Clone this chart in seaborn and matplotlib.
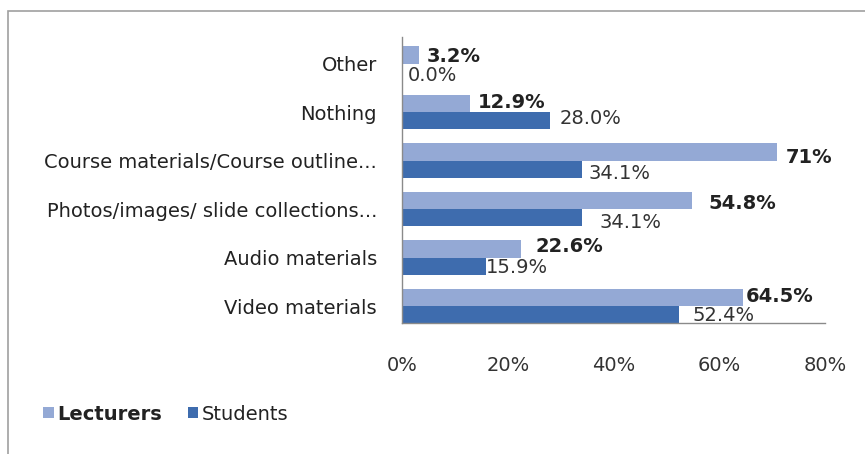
import matplotlib
matplotlib.use("Agg")
import matplotlib.pyplot as plt
import seaborn as sns
import pandas as pd
from matplotlib.patches import Rectangle, Patch

categories = ["Other", "Nothing", "Course materials/Course outline...",
              "Photos/images/ slide collections...", "Audio materials", "Video materials"]
lecturers = [3.2, 12.9, 71.0, 54.8, 22.6, 64.5]
students = [0.0, 28.0, 34.1, 34.1, 15.9, 52.4]
lecturer_labels = ["3.2%", "12.9%", "71%", "54.8%", "22.6%", "64.5%"]
student_labels = ["0.0%", "28.0%", "34.1%", "34.1%", "15.9%", "52.4%"]
series = ["Lecturers", "Students"]
xticks = [0, 20, 40, 60, 80]
xtick_labels = ["0%", "20%", "40%", "60%", "80%"]

# label nudges in pixels (dx right, dy down) relative to bar end / bar centre
lect_nudge = [(8, 1), (8, -1), (8, 5), (17, 3.5), (14, -2), (3, -1)]
stud_nudge = [(6, 3), (10, -2), (6, 4), (17, 5), (0, 1), (13, 1)]

colors = {"Lecturers": "#94A9D5", "Students": "#3E6CAE"}
FS = 14

df = pd.DataFrame({
    "category": categories * 2,
    "value": lecturers + students,
    "series": [series[0]] * len(categories) + [series[1]] * len(categories),
})

sns.set_theme(style="white")
plt.rcParams["font.family"] = ["DejaVu Sans"]

fig = plt.figure(figsize=(8.65, 4.54), dpi=100)
ax = fig.add_axes([402 / 865, 1 - 323 / 454, (825 - 402) / 865, (323 - 37) / 454])

sns.barplot(data=df, y="category", x="value", hue="series", order=categories,
            hue_order=series, palette=colors, orient="h", width=0.71,
            saturation=1, ax=ax, legend=False, linewidth=0)

ax.set_xlim(0, 80)
ax.set_ylim(5.35, -0.55)
ax.set_xlabel("")
ax.set_ylabel("")
ax.set_xticks(xticks)
ax.set_xticklabels(xtick_labels, fontsize=FS, color="#333333")
ax.tick_params(axis="x", length=0, pad=24)
ax.tick_params(axis="y", length=0, pad=18, labelsize=FS, labelcolor="#222222")

for s in ["top", "right"]:
    ax.spines[s].set_visible(False)
for s in ["left", "bottom"]:
    ax.spines[s].set_color("#8a8a8a")
    ax.spines[s].set_linewidth(1.0)

bw = 0.71 / 2
for i in range(len(categories)):
    yl = i - bw / 2
    ys = i + bw / 2
    ax.annotate(lecturer_labels[i], xy=(lecturers[i], yl),
                xytext=(lect_nudge[i][0], -lect_nudge[i][1]), textcoords="offset pixels",
                ha="left", va="center", fontsize=FS, fontweight="bold", color="#222222")
    ax.annotate(student_labels[i], xy=(students[i], ys),
                xytext=(stud_nudge[i][0], -stud_nudge[i][1]), textcoords="offset pixels",
                ha="left", va="center", fontsize=FS, color="#333333")

handles = [Patch(facecolor=colors[s], edgecolor="none") for s in series]
leg = fig.legend(handles, series, loc="center left", bbox_to_anchor=(43 / 865, 1 - 414 / 454),
                 frameon=False, fontsize=FS, handlelength=0.55, handleheight=0.55,
                 handletextpad=0.2, columnspacing=1.3, ncol=2, borderaxespad=0,
                 borderpad=0)
for t in leg.get_texts():
    t.set_color("#222222")
leg.get_texts()[0].set_fontweight("bold")

fig.patches.append(Rectangle((8 / 865, -0.2), 2, 1.2 - 11 / 454,
                             transform=fig.transFigure, fill=False,
                             edgecolor="#a0a0a0", linewidth=1.2))

fig.savefig("out.png", dpi=100, facecolor="white")
